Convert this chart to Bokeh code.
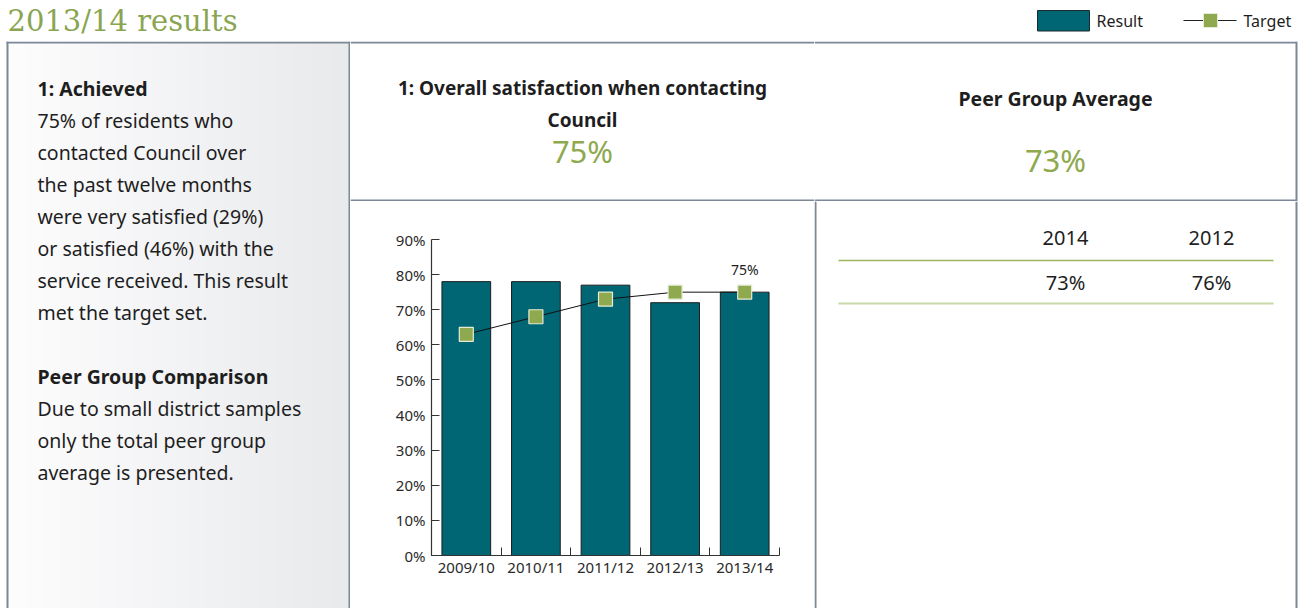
import numpy as np
from bokeh.plotting import figure
from bokeh.layouts import column, row
from bokeh.models import Range1d, FixedTicker, PrintfTickFormatter, ColumnDataSource
from bokeh.core.properties import value
from bokeh.embed import file_html
from bokeh.resources import INLINE

# ---------------- data ----------------
years = ["2009/10", "2010/11", "2011/12", "2012/13", "2013/14"]
result = [78, 78, 77, 72, 75]
target = [63, 68, 73, 75, 75]
result_label = "75%"

peer_years = ["2014", "2012"]
peer_values = ["73%", "76%"]

title_text = "2013/14 results"
measure_title = ["1: Overall satisfaction when contacting", "Council"]
measure_value = "75%"
peer_title = "Peer Group Average"
peer_value = "73%"
left_lines = [
    ("1: Achieved", True),
    ("75% of residents who", False),
    ("contacted Council over", False),
    ("the past twelve months", False),
    ("were very satisfied (29%)", False),
    ("or satisfied (46%) with the", False),
    ("service received.  This result", False),
    ("met the target set.", False),
    ("", False),
    ("Peer Group Comparison", True),
    ("Due to small district samples", False),
    ("only the total peer group", False),
    ("average is presented.", False),
]

# ---------------- styles ----------------
TEAL = "#006674"
GREEN = "#8fa94f"
BORDER = "#7d8896"
FONT = "Noto Sans"
TXT = "#1e1e1e"


def panel(w, h):
    p = figure(width=w, height=h, x_range=Range1d(0, w), y_range=Range1d(h, 0),
               output_backend="svg", toolbar_location=None,
               x_axis_location=None, y_axis_location=None, min_border=0)
    p.grid.visible = False
    p.outline_line_color = None
    p.background_fill_color = "white"
    p.border_fill_color = "white"
    p.frame_align = False
    return p


def txt(p, x, y, s, size, color=TXT, bold=False, align="left", font=FONT):
    p.text(x=[x], y=[y], text=[s], text_font=value(font), text_font_size=f"{size}px",
           text_color=color, text_align=align, text_baseline="middle",
           text_font_style="bold" if bold else "normal")


# ---------------- title bar ----------------
TH = 41
tfig = panel(1303, TH)
txt(tfig, 7, 20, title_text, 29, color="#8aa552", font="DejaVu Serif")
tfig.quad(left=[1037], right=[1089], top=[10], bottom=[30.5], fill_color=TEAL, line_color="#1a2a2e", line_width=1)
txt(tfig, 1096, 20.5, "Result", 16)
tfig.line(x=[1183, 1236], y=[20, 20], line_color="#222222", line_width=1)
tfig.scatter(x=[1210], y=[20], marker="square", size=14, fill_color=GREEN, line_color="#e5ecd5", line_width=1)
txt(tfig, 1243, 20.5, "Target", 16)

# ---------------- left panel ----------------
LH = 608 - TH
lfig = panel(350, LH)
N = 256
img = np.empty((1, N), dtype=np.uint32)
v = img.view(dtype=np.uint8).reshape((1, N, 4))
t = np.linspace(0, 1, N)
v[0, :, 0] = (253 - t * 20).astype(np.uint8)
v[0, :, 1] = (253 - t * 19).astype(np.uint8)
v[0, :, 2] = (254 - t * 18).astype(np.uint8)
v[0, :, 3] = 255
lfig.image_rgba(image=[img], x=7, y=0, dw=342, dh=LH)
lfig.line(x=[7, 7], y=[0, LH], line_color=BORDER, line_width=2)
lfig.line(x=[349, 349], y=[0, LH], line_color=BORDER, line_width=2)
lfig.line(x=[6, 350], y=[1, 1], line_color=BORDER, line_width=2)
for i, (s, b) in enumerate(left_lines):
    if s:
        txt(lfig, 37, 87.5 - TH + 32 * i, s, 19.5, bold=b)

# ---------------- middle header ----------------
MW = 464
HH = 160
mh = panel(MW, HH)
mh.line(x=[0, MW], y=[1, 1], line_color=BORDER, line_width=2)
mh.line(x=[0, MW], y=[159, 159], line_color=BORDER, line_width=2)
txt(mh, 232, 87.5 - TH, measure_title[0], 19, bold=True, align="center")
txt(mh, 232, 119 - TH, measure_title[1], 19, bold=True, align="center")
txt(mh, 232, 150 - TH, measure_value, 31, color=GREEN, align="center")

# ---------------- chart ----------------
CH = 608 - TH - HH
xs = [i + 0.5 for i in range(len(years))]
src = ColumnDataSource(dict(x=xs, result=result, target=target))
cfig = figure(width=MW, height=CH, x_range=Range1d(0, len(years)), y_range=Range1d(0, 90),
              output_backend="svg", toolbar_location=None,
              min_border_left=81, min_border_right=35, min_border_top=38, min_border_bottom=53)
cfig.frame_align = False
cfig.grid.visible = False
cfig.outline_line_color = None
cfig.vbar(x="x", top="result", width=0.7, source=src, fill_color=TEAL, line_color="#1c1c1c", line_width=1)
cfig.line(x="x", y="target", source=src, line_color="#111111", line_width=1)
cfig.scatter(x="x", y="target", source=src, marker="square", size=14,
             fill_color=GREEN, line_color="#e5ecd5", line_width=1.2)
cfig.text(x=[xs[-1]], y=[result[-1]], text=[result_label], text_font=value(FONT), text_font_size="14px",
          text_color="#222222", text_align="center", text_baseline="middle", y_offset=-23)

cfig.yaxis.ticker = FixedTicker(ticks=list(range(0, 91, 10)))
cfig.yaxis.formatter = PrintfTickFormatter(format="%d%%")
cfig.yaxis.major_tick_in = 8
cfig.yaxis.major_tick_out = 0
cfig.yaxis.major_label_standoff = 6

cfig.xaxis.ticker = FixedTicker(ticks=xs, minor_ticks=list(range(0, len(years) + 1)))
cfig.xaxis.major_label_overrides = {x: y for x, y in zip(xs, years)}
cfig.xaxis.major_tick_in = 0
cfig.xaxis.major_tick_out = 0
cfig.xaxis.minor_tick_in = 8
cfig.xaxis.minor_tick_out = 0
cfig.xaxis.major_label_standoff = 1

for ax in (cfig.xaxis, cfig.yaxis):
    ax.axis_line_color = "#333333"
    ax.axis_line_width = 1.2
    ax.major_tick_line_color = "#333333"
    ax.major_label_text_font = FONT
    ax.major_label_text_font_size = "15px"
    ax.major_label_text_color = "#2a2a2a"
cfig.xaxis.minor_tick_line_color = "#333333"
cfig.yaxis.minor_tick_line_color = None

# ---------------- right header ----------------
RW = 1303 - 350 - MW
rh = panel(RW, HH)
rx = 1296 - 350 - MW
rh.line(x=[0, rx], y=[1, 1], line_color=BORDER, line_width=2)
rh.line(x=[0, rx], y=[159, 159], line_color=BORDER, line_width=2)
rh.line(x=[rx, rx], y=[0, HH], line_color=BORDER, line_width=2)
cx = 1055 - 350 - MW
txt(rh, cx, 98 - TH, peer_title, 19.5, bold=True, align="center")
txt(rh, cx, 159 - TH, peer_value, 31, color=GREEN, align="center")

# ---------------- peer table ----------------
tb = panel(RW, CH)
off = 350 + MW
top0 = TH + HH
tb.line(x=[1, 1], y=[0, CH], line_color=BORDER, line_width=2)
tb.line(x=[rx, rx], y=[0, CH], line_color=BORDER, line_width=2)
tb.line(x=[838 - off, 1273 - off], y=[260 - top0, 260 - top0], line_color="#9cb55e", line_width=1.6)
tb.line(x=[838 - off, 1273 - off], y=[303 - top0, 303 - top0], line_color="#c8d8a8", line_width=2)
col_x = [1065 - off, 1211 - off]
for xx, yy, vv in zip(col_x, peer_years, peer_values):
    txt(tb, xx, 237.5 - top0, yy, 20, align="center")
    txt(tb, xx, 281.5 - top0, vv, 20, align="center")

layout = column(tfig, row(lfig, column(mh, cfig), column(rh, tb)))
open("out.html", "w").write(file_html(layout, INLINE))
